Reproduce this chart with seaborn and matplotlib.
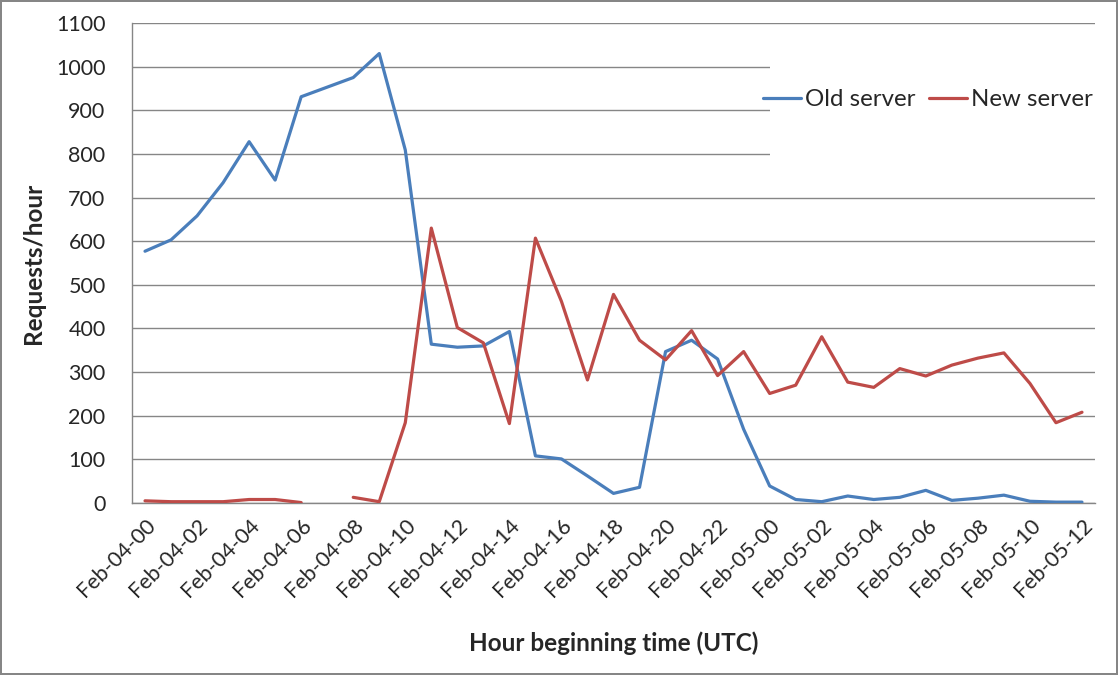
import numpy as np
import pandas as pd
import matplotlib
matplotlib.use("Agg")
import matplotlib.pyplot as plt
from matplotlib.patches import Rectangle
import seaborn as sns

# Hourly categories Feb-04-00 .. Feb-05-12
hours = [f"Feb-04-{h:02d}" for h in range(24)] + [f"Feb-05-{h:02d}" for h in range(13)]

old_server = [577, 603, 658, 734, 828, 740, 931, 953, 975, 1030, 809, 364, 357, 360, 393,
              108, 101, 62, 22, 36, 347, 373, 330, 169, 39, 8, 3, 16, 8, 13, 29, 6, 11,
              18, 4, 2, 2]
new_server = [5, 3, 3, 3, 8, 8, 1, np.nan, 13, 3, 184, 630, 402, 367, 182,
              607, 462, 282, 478, 373, 328, 395, 292, 347, 251, 270, 381, 277, 265, 308,
              291, 316, 332, 344, 274, 184, 208]

series_names = ["Old server", "New server"]
colors = {"Old server": "#4A7EBB", "New server": "#BE4B48"}

# long format; 'seg' splits a series at missing hours so gaps stay open
rows = []
for name, vals in zip(series_names, [old_server, new_server]):
    seg = 0
    for i, v in enumerate(vals):
        if np.isnan(v):
            seg += 1
            continue
        rows.append({"hour": i, "requests": v, "server": name, "seg": seg})
df = pd.DataFrame(rows)

sns.set_style("white")
plt.rcParams["font.family"] = ["Lato", "DejaVu Sans"]

fig = plt.figure(figsize=(11.18, 6.75), dpi=100)
fig.patch.set_edgecolor("#868686")
fig.patch.set_linewidth(1.5)
ax = fig.add_axes([132 / 1118, 1 - 503 / 675, 963 / 1118, 480 / 675])

sns.lineplot(data=df, x="hour", y="requests", hue="server", units="seg",
             estimator=None, palette=colors, hue_order=series_names,
             linewidth=2.3, ax=ax, legend=False, zorder=3)

n = len(hours)
ax.set_xlim(-0.5, n - 0.5)
ax.set_ylim(0, 1100)
ax.set_yticks(range(0, 1101, 100))
ax.set_xticks(range(0, n, 2))
ax.set_xticklabels(hours[::2], rotation=45, ha="right", va="top",
                   rotation_mode="anchor", fontsize=15.5)
ax.set_xticks(np.arange(-0.5, n, 1), minor=True)
ax.tick_params(axis="x", which="major", length=0, pad=9)
ax.tick_params(axis="x", which="minor", length=7, width=1, color="#868686", direction="out")
ax.tick_params(axis="y", length=7, width=1, color="#868686", direction="out", labelsize=15.5, pad=12)

ax.grid(axis="y", color="#868686", linewidth=1)
ax.set_axisbelow(True)
for side in ["top", "right"]:
    ax.spines[side].set_visible(False)
for side in ["left", "bottom"]:
    ax.spines[side].set_color("#868686")
    ax.spines[side].set_linewidth(1)

ax.set_xlabel("Hour beginning time (UTC)", fontsize=17.5, fontweight="bold", labelpad=22)
ax.set_ylabel("Requests/hour", fontsize=17.5, fontweight="bold", labelpad=8)

# legend area covers the gridlines like in the source chart
ax.add_patch(Rectangle((0.662, 0.65), 0.34, 0.335, transform=ax.transAxes,
                       facecolor="white", edgecolor="none", zorder=2))
handles = [plt.Line2D([], [], color=colors[s], linewidth=2.3) for s in series_names]
ax.legend(handles, series_names, loc="center right", bbox_to_anchor=(1.02, 0.84),
          ncol=2, frameon=False, fontsize=17.3, handlelength=1.6, handletextpad=0.15,
          columnspacing=0.55)

fig.savefig("out.png", dpi=100)
